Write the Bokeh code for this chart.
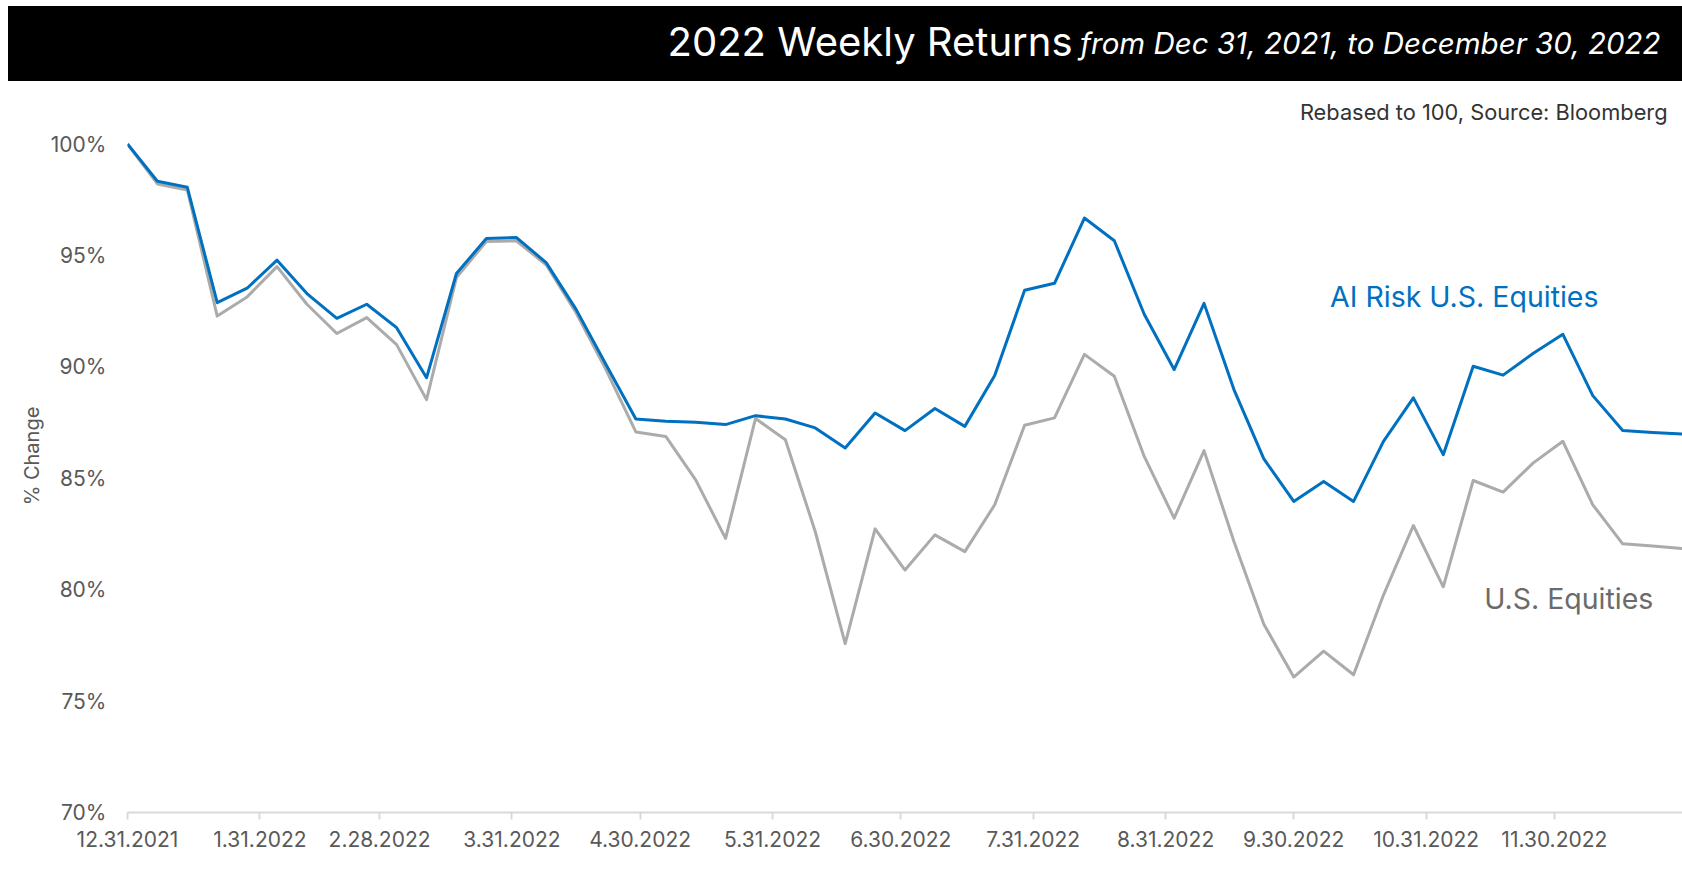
import pandas as pd
from bokeh.plotting import figure
from bokeh.models import Range1d, FixedTicker, PrintfTickFormatter, Label
from bokeh.layouts import column
from bokeh.embed import file_html
from bokeh.resources import INLINE

# ---------------- data ----------------
start_date = "2021-12-31"   # weekly observations, Fridays

ai_risk_us_equities = [100.0, 98.33, 98.06, 92.88, 93.53, 94.79, 93.29, 92.18, 92.81, 91.76,
                       89.51, 94.19, 95.76, 95.81, 94.68, 92.58, 90.11, 87.66, 87.56, 87.51,
                       87.41, 87.81, 87.66, 87.26, 86.36, 87.93, 87.14, 88.13, 87.33, 89.61,
                       93.44, 93.75, 96.68, 95.66, 92.36, 89.88, 92.85, 88.98, 85.87, 83.96,
                       84.86, 83.96, 86.66, 88.61, 86.06, 90.03, 89.63, 90.60, 91.46, 88.71,
                       87.14, 87.06, 86.99]

us_equities = [100.0, 98.21, 97.94, 92.28, 93.14, 94.50, 92.81, 91.50, 92.21, 91.00,
               88.53, 94.01, 95.63, 95.66, 94.58, 92.43, 89.88, 87.08, 86.88, 84.93,
               82.30, 87.68, 86.73, 82.60, 77.58, 82.73, 80.88, 82.46, 81.71, 83.81,
               87.38, 87.71, 90.56, 89.58, 85.98, 83.21, 86.24, 82.16, 78.45, 76.08,
               77.24, 76.18, 79.76, 82.88, 80.13, 84.90, 84.38, 85.68, 86.66, 83.81,
               82.06, 81.96, 81.85]

tick_dates = ["2021-12-31", "2022-01-31", "2022-02-28", "2022-03-31", "2022-04-30",
              "2022-05-31", "2022-06-30", "2022-07-31", "2022-08-31", "2022-09-30",
              "2022-10-31", "2022-11-30"]
tick_labels = ["12.31.2021", "1.31.2022", "2.28.2022", "3.31.2022", "4.30.2022",
               "5.31.2022", "6.30.2022", "7.31.2022", "8.31.2022", "9.30.2022",
               "10.31.2022", "11.30.2022"]
y_ticks = [70, 75, 80, 85, 90, 95, 100]

dates = pd.date_range(start_date, periods=len(ai_risk_us_equities), freq="7D")

FONT = "Inter"
BLUE = "#0070C0"
GRAY = "#ABABAB"
W = 1674
LEFT = 119

# ---------------- title bar ----------------
tb = figure(width=W, height=75, x_range=Range1d(LEFT, W), y_range=Range1d(0, 75),
            toolbar_location=None, output_backend="svg",
            x_axis_location=None, y_axis_location=None,
            min_border_left=LEFT, min_border_right=0, min_border_top=0, min_border_bottom=0,
            background_fill_color=None, border_fill_color=None,
            outline_line_color=None, styles={"background-color": "black"})
tb.grid.visible = False
tb.add_layout(Label(x=1064, y=40, text="2022 Weekly Returns", text_align="right",
                    text_baseline="alphabetic", text_color="white", text_font=FONT,
                    text_font_size="40px"))
tb.add_layout(Label(x=1652, y=39, text="from Dec 31, 2021, to December 30, 2022",
                    text_align="right", text_baseline="alphabetic", text_color="white",
                    text_font=FONT, text_font_size="29.5px", text_font_style="italic"))

# ---------------- main chart ----------------
p = figure(width=W, height=788, x_axis_type="datetime",
           x_range=Range1d(dates[0], dates[-1]), y_range=Range1d(70, 102),
           toolbar_location=None, output_backend="svg",
           min_border_left=LEFT, min_border_right=0, min_border_top=18, min_border_bottom=57,
           outline_line_color=None, background_fill_color="white", border_fill_color="white")
p.grid.visible = False

p.line(dates, us_equities, line_color=GRAY, line_width=3, line_join="round")
p.line(dates, ai_risk_us_equities, line_color=BLUE, line_width=3, line_join="round")

tick_ms = [float(pd.Timestamp(d).value // 10**6) for d in tick_dates]
xa = p.xaxis[0]
xa.ticker = FixedTicker(ticks=tick_ms, minor_ticks=[])
xa.major_label_overrides = {t: lab for t, lab in zip(tick_ms, tick_labels)}
xa.axis_line_color = "#D9D9D9"
xa.axis_line_width = 2
xa.major_tick_line_color = "#D9D9D9"
xa.major_tick_line_width = 2
xa.major_tick_in = 0
xa.major_tick_out = 7
xa.minor_tick_line_color = None
xa.major_label_standoff = 11
xa.major_label_text_font = FONT
xa.major_label_text_font_size = "21px"
xa.major_label_text_color = "#595959"

ya = p.yaxis[0]
ya.ticker = FixedTicker(ticks=y_ticks, minor_ticks=[])
ya.formatter = PrintfTickFormatter(format="%d%%")
ya.axis_line_color = None
ya.major_tick_line_color = None
ya.minor_tick_line_color = None
ya.major_label_standoff = 15
ya.major_label_text_font = FONT
ya.major_label_text_font_size = "21px"
ya.major_label_text_color = "#595959"
ya.axis_label = "% Change"
ya.axis_label_text_font = FONT
ya.axis_label_text_font_size = "20px"
ya.axis_label_text_font_style = "normal"
ya.axis_label_text_color = "#595959"
ya.axis_label_standoff = 4

p.add_layout(Label(x=pd.Timestamp("2022-12-26 12:00"), y=101.46,
                   text="Rebased to 100, Source: Bloomberg", text_align="right",
                   text_baseline="alphabetic", text_color="#333333", text_font=FONT,
                   text_font_size="21.8px"))
p.add_layout(Label(x=pd.Timestamp("2022-10-08 12:00"), y=93.16, text="AI Risk U.S. Equities",
                   text_align="left", text_baseline="alphabetic", text_color=BLUE,
                   text_font=FONT, text_font_size="28.5px"))
p.add_layout(Label(x=pd.Timestamp("2022-11-13 14:00"), y=79.6, text="U.S. Equities",
                   text_align="left", text_baseline="alphabetic", text_color="#6B6B6B",
                   text_font=FONT, text_font_size="28.5px"))

layout = column(tb, p, spacing=0, margin=(6, 0, 0, 8))
open("out.html", "w").write(file_html(layout, INLINE))
